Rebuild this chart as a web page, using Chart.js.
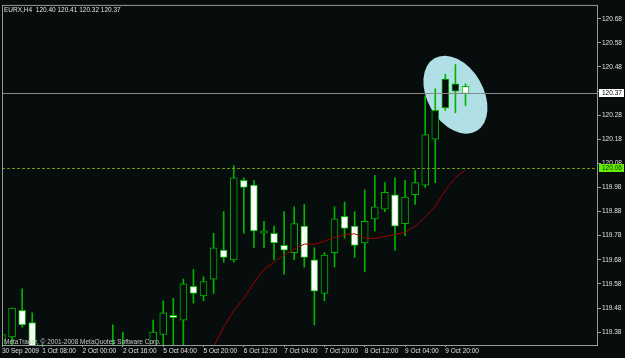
<!DOCTYPE html>
<html>
<head>
<meta charset="utf-8">
<script src="https://cdn.jsdelivr.net/npm/chart.js@4.4.1/dist/chart.umd.min.js"></script>
<style>
  html, body { margin: 0; padding: 0; background: #070c0c; }
  canvas { display: block; }
</style>
</head>
<body>
<canvas id="myChart" width="625" height="358"></canvas>
<script>
// EURX H4 bars, oldest first
const times = [
	'30 Sep 2009', '30 Sep 20:00', '1 Oct 00:00', '1 Oct 04:00', '1 Oct 08:00', '1 Oct 12:00',
	'1 Oct 16:00', '1 Oct 20:00', '2 Oct 00:00', '2 Oct 04:00', '2 Oct 08:00', '2 Oct 12:00',
	'2 Oct 16:00', '2 Oct 20:00', '4 Oct 20:00', '5 Oct 00:00', '5 Oct 04:00', '5 Oct 08:00',
	'5 Oct 12:00', '5 Oct 16:00', '5 Oct 20:00', '6 Oct 00:00', '6 Oct 04:00', '6 Oct 08:00',
	'6 Oct 12:00', '6 Oct 16:00', '6 Oct 20:00', '7 Oct 00:00', '7 Oct 04:00', '7 Oct 08:00',
	'7 Oct 12:00', '7 Oct 16:00', '7 Oct 20:00', '8 Oct 00:00', '8 Oct 04:00', '8 Oct 08:00',
	'8 Oct 12:00', '8 Oct 16:00', '8 Oct 20:00', '9 Oct 00:00', '9 Oct 04:00', '9 Oct 08:00',
	'9 Oct 12:00', '9 Oct 16:00', '9 Oct 20:00', '10 Oct 00:00', '10 Oct 04:00',
]
const opens = [
	119.30, 119.36, 119.47, 119.42, 119.31, 119.25, 119.27, 119.29, 119.26, 119.28, 119.25, 119.30,
	119.32, 119.28, 119.30, 119.31, 119.37, 119.45, 119.43, 119.57, 119.53, 119.60, 119.72, 119.68,
	120.01, 119.99, 119.79, 119.79, 119.74, 119.71, 119.82, 119.68, 119.54, 119.71, 119.86, 119.82,
	119.75, 119.85, 119.89, 119.95, 119.83, 119.95, 119.99, 120.18, 120.31, 120.38, 120.40,
]
const highs = [
	119.41, 119.48, 119.56, 119.46, 119.33, 119.30, 119.32, 119.32, 119.31, 119.32, 119.32, 119.41,
	119.38, 119.32, 119.32, 119.43, 119.51, 119.52, 119.60, 119.64, 119.61, 119.79, 119.88, 120.07,
	120.02, 120.01, 119.84, 119.82, 119.88, 119.90, 119.91, 119.73, 119.71, 119.90, 119.92, 119.88,
	119.97, 120.03, 120.00, 120.02, 120.01, 120.05, 120.36, 120.39, 120.45, 120.49, 120.41,
]
const lows = [
	119.28, 119.32, 119.40, 119.29, 119.22, 119.20, 119.23, 119.24, 119.21, 119.22, 119.20, 119.26,
	119.25, 119.22, 119.24, 119.29, 119.32, 119.32, 119.32, 119.50, 119.51, 119.54, 119.67, 119.67,
	119.79, 119.73, 119.73, 119.68, 119.62, 119.68, 119.65, 119.41, 119.51, 119.65, 119.77, 119.69,
	119.63, 119.80, 119.88, 119.72, 119.78, 119.91, 119.98, 120.00, 120.30, 120.29, 120.32,
]
const closes = [
	119.37, 119.48, 119.41, 119.31, 119.25, 119.27, 119.29, 119.26, 119.28, 119.25, 119.30, 119.32,
	119.28, 119.30, 119.31, 119.38, 119.46, 119.44, 119.58, 119.54, 119.59, 119.73, 119.69, 120.02,
	119.98, 119.80, 119.80, 119.75, 119.72, 119.83, 119.69, 119.55, 119.70, 119.85, 119.81, 119.74,
	119.84, 119.90, 119.96, 119.82, 119.94, 120.00, 120.20, 120.30, 120.43, 120.41, 120.37,
]
// moving average (red line), only the part inside the window
const maValues = [
	null, null, null, null, null, null, null, null, null, null, null, null,
	null, null, null, null, null, null, null, null, 119.25, 119.32, 119.40, 119.47,
	119.52, 119.585, 119.64, 119.67, 119.70, 119.725, 119.745, 119.745, 119.757, 119.773, 119.783, 119.788,
	119.771, 119.768, 119.777, 119.785, 119.794, 119.82, 119.857, 119.902, 119.968, 120.022, 120.053,
]
const yTicks = [119.38, 119.48, 119.58, 119.68, 119.78, 119.88, 119.98, 120.08, 120.18, 120.28, 120.38, 120.48, 120.58, 120.68]
const symbol = 'EURX,H4'
const bidPrice = 120.37
const hLinePrice = 120.06
const circleAt = { bar: 45, price: 120.365 }

const BG = '#070c0c'
const GREEN = '#00b400'
const last = times.length - 1

const xs = times.map((t, i) => i)
const bodyData = xs.map((i) => ({ x: i, y: [opens[i], closes[i]] }))
const wickData = xs.map((i) => ({ x: i, y: [lows[i], highs[i]] }))
const maData = xs.map((i) => ({ x: i, y: maValues[i] }))
const bodyColors = xs.map((i) => (closes[i] > opens[i] ? BG : '#ffffff'))

const decor = {
	id: 'decor',
	beforeDatasetsDraw(chart) {
		const { ctx, chartArea: a, scales } = chart
		ctx.save()
		ctx.beginPath()
		ctx.rect(a.left, a.top, a.right - a.left, a.bottom - a.top)
		ctx.clip()
		ctx.fillStyle = '#b0e0e6'
		ctx.beginPath()
		ctx.ellipse(scales.x.getPixelForValue(circleAt.bar), scales.y.getPixelForValue(circleAt.price), 42, 28, Math.PI / 3, 0, Math.PI * 2)
		ctx.fill()
		ctx.restore()
	},
	afterDatasetsDraw(chart) {
		const { ctx, chartArea: a, scales } = chart
		ctx.save()
		ctx.lineWidth = 1
		// dashed horizontal line
		let py = Math.round(scales.y.getPixelForValue(hLinePrice)) + 0.5
		ctx.strokeStyle = '#6a9a10'
		ctx.setLineDash([3, 2])
		ctx.beginPath()
		ctx.moveTo(a.left, py)
		ctx.lineTo(a.right, py)
		ctx.stroke()
		// bid line
		py = Math.round(scales.y.getPixelForValue(bidPrice)) + 0.5
		ctx.setLineDash([])
		ctx.strokeStyle = '#8a8a8a'
		ctx.beginPath()
		ctx.moveTo(a.left, py)
		ctx.lineTo(a.right, py)
		ctx.stroke()
		ctx.restore()
	},
	afterDraw(chart) {
		const { ctx, chartArea: a, scales } = chart
		ctx.save()
		ctx.strokeStyle = '#9a9a9a'
		ctx.lineWidth = 1
		ctx.strokeRect(a.left + 0.5, a.top + 0.5, a.right - a.left - 1, a.bottom - a.top)
		ctx.font = '6.5px "Liberation Sans"'
		ctx.textBaseline = 'middle'
		const boxes = [
			{ price: bidPrice, fill: '#ffffff', text: '#000000' },
			{ price: hLinePrice, fill: '#66ee00', text: '#103000' },
		]
		boxes.forEach((b) => {
			const py = scales.y.getPixelForValue(b.price)
			ctx.fillStyle = b.fill
			ctx.fillRect(a.right + 1, Math.round(py - 4), chart.width - a.right - 2, 8)
			ctx.fillStyle = b.text
			ctx.fillText(b.price.toFixed(2), a.right + 4, py)
		})
		ctx.textBaseline = 'alphabetic'
		ctx.fillStyle = '#e0e0e0'
		const hdr = symbol + '  ' + [opens[last], highs[last], lows[last], closes[last]].map((v) => v.toFixed(2)).join(' ')
		ctx.fillText(hdr, a.left + 2, a.top + 7)
		ctx.fillStyle = '#c8c8c8'
		ctx.fillText('MetaTrader, \u00a9 2001-2008 MetaQuotes Software Corp.', a.left + 2, a.bottom - 1)
		ctx.restore()
	},
}

Chart.defaults.font.family = '"Liberation Sans", Arial, sans-serif'
Chart.defaults.font.size = 6.5

const config = {
	type: 'bar',
	data: {
		datasets: [
			{
				type: 'line',
				data: maData,
				borderColor: '#a00000',
				borderWidth: 1,
				pointRadius: 0,
				tension: 0,
				order: 0,
			},
			{
				data: bodyData,
				backgroundColor: bodyColors,
				borderColor: GREEN,
				borderWidth: 1,
				borderSkipped: false,
				barThickness: 7,
				grouped: false,
				order: 1,
			},
			{
				data: wickData,
				backgroundColor: GREEN,
				borderWidth: 0,
				barThickness: 1,
				grouped: false,
				order: 2,
			},
		],
	},
	options: {
		responsive: false,
		animation: false,
		events: [],
		layout: { padding: { left: 2, top: 2, right: 0, bottom: 0 } },
		plugins: {
			legend: { display: false },
			tooltip: { enabled: false },
		},
		scales: {
			x: {
				type: 'linear',
				min: 0,
				max: 59.15,
				offset: false,
				border: { display: false },
				grid: { offset: false, drawOnChartArea: false, drawTicks: true, tickLength: 2, color: '#9a9a9a' },
				ticks: {
					align: 'start',
					autoSkip: false,
					maxRotation: 0,
					padding: 0,
					color: '#e0e0e0',
					callback: (v) => times[v],
				},
				afterBuildTicks: (s) => {
					s.ticks = xs.filter((i) => i % 4 === 0).map((v) => ({ value: v }))
				},
				afterFit: (s) => {
					s.height = 13
				},
			},
			y: {
				position: 'right',
				min: 119.3265,
				max: 120.7376,
				beginAtZero: false,
				border: { display: false },
				grid: { drawOnChartArea: false, drawTicks: true, tickLength: 3, color: '#9a9a9a' },
				ticks: {
					padding: 1,
					color: '#e0e0e0',
					callback: (v) => (Math.abs(v - bidPrice) < 0.02 ? '' : v.toFixed(2)),
				},
				afterBuildTicks: (s) => {
					s.ticks = yTicks.map((v) => ({ value: v }))
				},
				afterFit: (s) => {
					s.width = 27
				},
			},
		},
	},
	plugins: [decor],
}

const canvas = document.getElementById('myChart')
const myChart = new Chart(canvas, config)
</script>
</body>
</html>
